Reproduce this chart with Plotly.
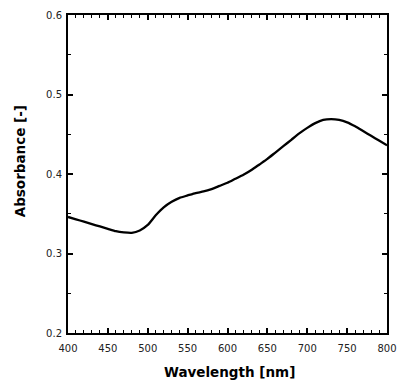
import plotly.graph_objects as go

wavelength = [400, 410, 420, 430, 440, 450, 460, 470, 480, 490, 500, 510, 520, 530, 540,
              550, 560, 570, 580, 590, 600, 610, 620, 630, 640, 650, 660, 670, 680, 690,
              700, 710, 720, 730, 740, 750, 760, 770, 780, 790, 800]
absorbance = [0.346, 0.343, 0.340, 0.337, 0.334, 0.331, 0.328, 0.3265, 0.326, 0.329, 0.336,
              0.348, 0.358, 0.365, 0.370, 0.373, 0.376, 0.378, 0.381, 0.385, 0.389, 0.394,
              0.399, 0.405, 0.412, 0.419, 0.427, 0.435, 0.443, 0.451, 0.458, 0.464, 0.468,
              0.469, 0.468, 0.465, 0.460, 0.454, 0.448, 0.442, 0.436]
x_title = "Wavelength [nm]"
y_title = "Absorbance [-]"

FONT = "DejaVu Sans"

fig = go.Figure()
fig.add_trace(go.Scatter(x=wavelength, y=absorbance, mode="lines",
                         line=dict(color="black", width=2.3, shape="spline", smoothing=0.5),
                         showlegend=False))

axis_common = dict(showline=True, linecolor="black", linewidth=2, mirror="allticks",
                   ticks="inside", ticklen=5, tickwidth=1.5, tickcolor="black",
                   showgrid=False, zeroline=False, automargin=False,
                   tickfont=dict(family=FONT, size=10, color="#222"))

fig.update_xaxes(range=[400, 800], dtick=50, tick0=400, ticklabelstandoff=5,
                 minor=dict(dtick=10, ticks="inside", ticklen=3, tickwidth=1.2, tickcolor="black"),
                 **axis_common)
fig.update_yaxes(range=[0.2, 0.6], dtick=0.1, tick0=0.2, tickformat=".1f", ticklabelstandoff=2,
                 minor=dict(dtick=0.05, ticks="inside", ticklen=3, tickwidth=1.2, tickcolor="black"),
                 **axis_common)

fig.add_annotation(text="<b>" + x_title + "</b>", xref="paper", yref="paper",
                   x=0.505, y=0, yshift=-39, yanchor="middle", showarrow=False,
                   font=dict(family=FONT, size=13.5, color="black"))
fig.add_annotation(text="<b>" + y_title + "</b>", xref="paper", yref="paper",
                   x=0, xshift=-48, y=0.54, xanchor="center", yanchor="middle",
                   textangle=-90, showarrow=False,
                   font=dict(family=FONT, size=13.5, color="black"))

fig.update_layout(width=397, height=385, margin=dict(l=68, r=10, t=15, b=52),
                  plot_bgcolor="white", paper_bgcolor="white")

fig.write_html("out.html", config={"displayModeBar": False},
               post_script="document.body.style.margin='0';document.body.style.overflow='hidden';")
